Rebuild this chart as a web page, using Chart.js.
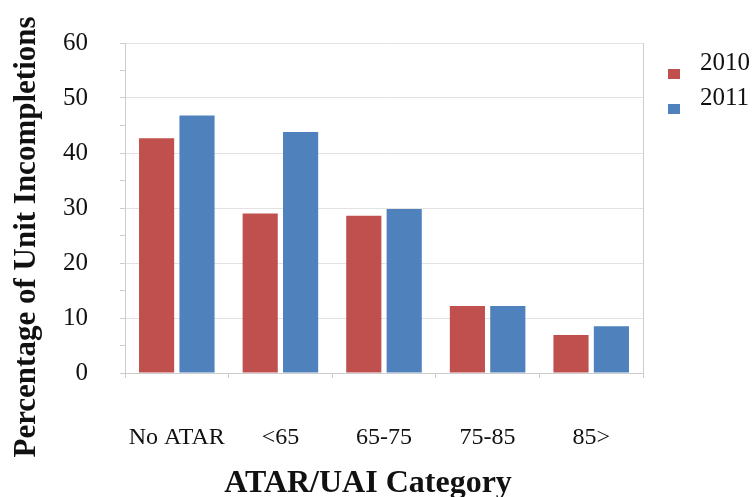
<!DOCTYPE html>
<html>
<head>
<meta charset="utf-8">
<script src="https://cdn.jsdelivr.net/npm/chart.js@4/dist/chart.umd.min.js"></script>
<style>
  html, body { margin: 0; padding: 0; background: #fff; }
  #wrap { width: 753px; height: 497px; }
</style>
</head>
<body>
<div id="wrap"><canvas id="c" width="753" height="497"></canvas></div>
<script>
// ATAR/UAI categories and unit incompletion rates (%) per year
const categories = ['No ATAR', '<65', '65-75', '75-85', '85>'];
const values2010 = [42.7, 29.0, 28.6, 12.2, 6.9];
const values2011 = [46.8, 43.8, 29.8, 12.2, 8.5];
const seriesNames = ['2010', '2011'];
const yTickValues = [0, 10, 20, 30, 40, 50, 60];

const SERIF = '"Liberation Serif", "Times New Roman", serif';
const TEXT = '#111111';
const AXIS = '#cdcdcd';
const GRID = '#e2e2e2';

// Axis titles, legend and the right frame edge, laid out around the chart area
const decor = {
  id: 'decor',
  afterDraw(chart) {
    const { ctx, chartArea: a } = chart;
    ctx.save();

    // right edge of the plot frame
    ctx.strokeStyle = AXIS;
    ctx.lineWidth = 1;
    ctx.beginPath();
    ctx.moveTo(Math.round(a.right) + 0.5, a.top);
    ctx.lineTo(Math.round(a.right) + 0.5, a.bottom);
    ctx.stroke();

    // y axis title
    ctx.fillStyle = TEXT;
    ctx.font = 'bold 31px ' + SERIF;
    ctx.textAlign = 'center';
    ctx.textBaseline = 'alphabetic';
    ctx.translate(35, (a.top + a.bottom) / 2 + 29);
    ctx.rotate(-Math.PI / 2);
    ctx.fillText('Percentage of Unit Incompletions', 0, 0);
    ctx.setTransform(1, 0, 0, 1, 0, 0);

    // x axis title
    ctx.font = 'bold 32px ' + SERIF;
    ctx.fillText('ATAR/UAI Category', (a.left + a.right) / 2 - 16, 492);

    // legend
    ctx.font = '25px ' + SERIF;
    ctx.textAlign = 'left';
    chart.data.datasets.forEach((ds, i) => {
      const yText = a.top + 20 + i * 35;
      ctx.fillStyle = ds.backgroundColor;
      ctx.fillRect(a.right + 25, yText + 6, 12, 10);
      ctx.fillStyle = TEXT;
      ctx.textBaseline = 'middle';
      ctx.fillText(ds.label, a.right + 57, yText);
    });
    ctx.restore();
  }
};

new Chart(document.getElementById('c'), {
  type: 'bar',
  data: {
    labels: categories,
    datasets: [
      { label: seriesNames[0], data: values2010, backgroundColor: '#C0504D' },
      { label: seriesNames[1], data: values2011, backgroundColor: '#4F81BD' }
    ]
  },
  options: {
    responsive: false,
    animation: false,
    devicePixelRatio: 1,
    categoryPercentage: 0.78,
    barPercentage: 0.87,
    layout: { padding: { left: 63, right: 110, top: 43, bottom: 46 } },
    plugins: {
      legend: { display: false },
      tooltip: { enabled: false }
    },
    scales: {
      x: {
        offset: true,
        afterFit: (s) => { s.height = 78; },
        grid: {
          offset: true,
          drawOnChartArea: false,
          tickLength: 5,
          tickColor: AXIS
        },
        border: { color: AXIS },
        ticks: {
          color: TEXT,
          font: { family: SERIF, size: 24 },
          padding: 45,
          autoSkip: false,
          maxRotation: 0
        }
      },
      y: {
        min: 0,
        max: 60,
        afterFit: (s) => { s.width = 62; s.paddingTop = 15; s.paddingBottom = 15; },
        ticks: {
          stepSize: 5,
          autoSkip: false,
          color: TEXT,
          font: { family: SERIF, size: 25 },
          padding: 32,
          callback: (v) => (yTickValues.includes(v) ? String(v) : '')
        },
        grid: {
          color: (c) => (c.tick && c.tick.value % 10 === 0 ? GRID : 'rgba(0,0,0,0)'),
          tickColor: AXIS,
          tickLength: 5
        },
        border: { color: AXIS }
      }
    }
  },
  plugins: [decor]
});
</script>
</body>
</html>
